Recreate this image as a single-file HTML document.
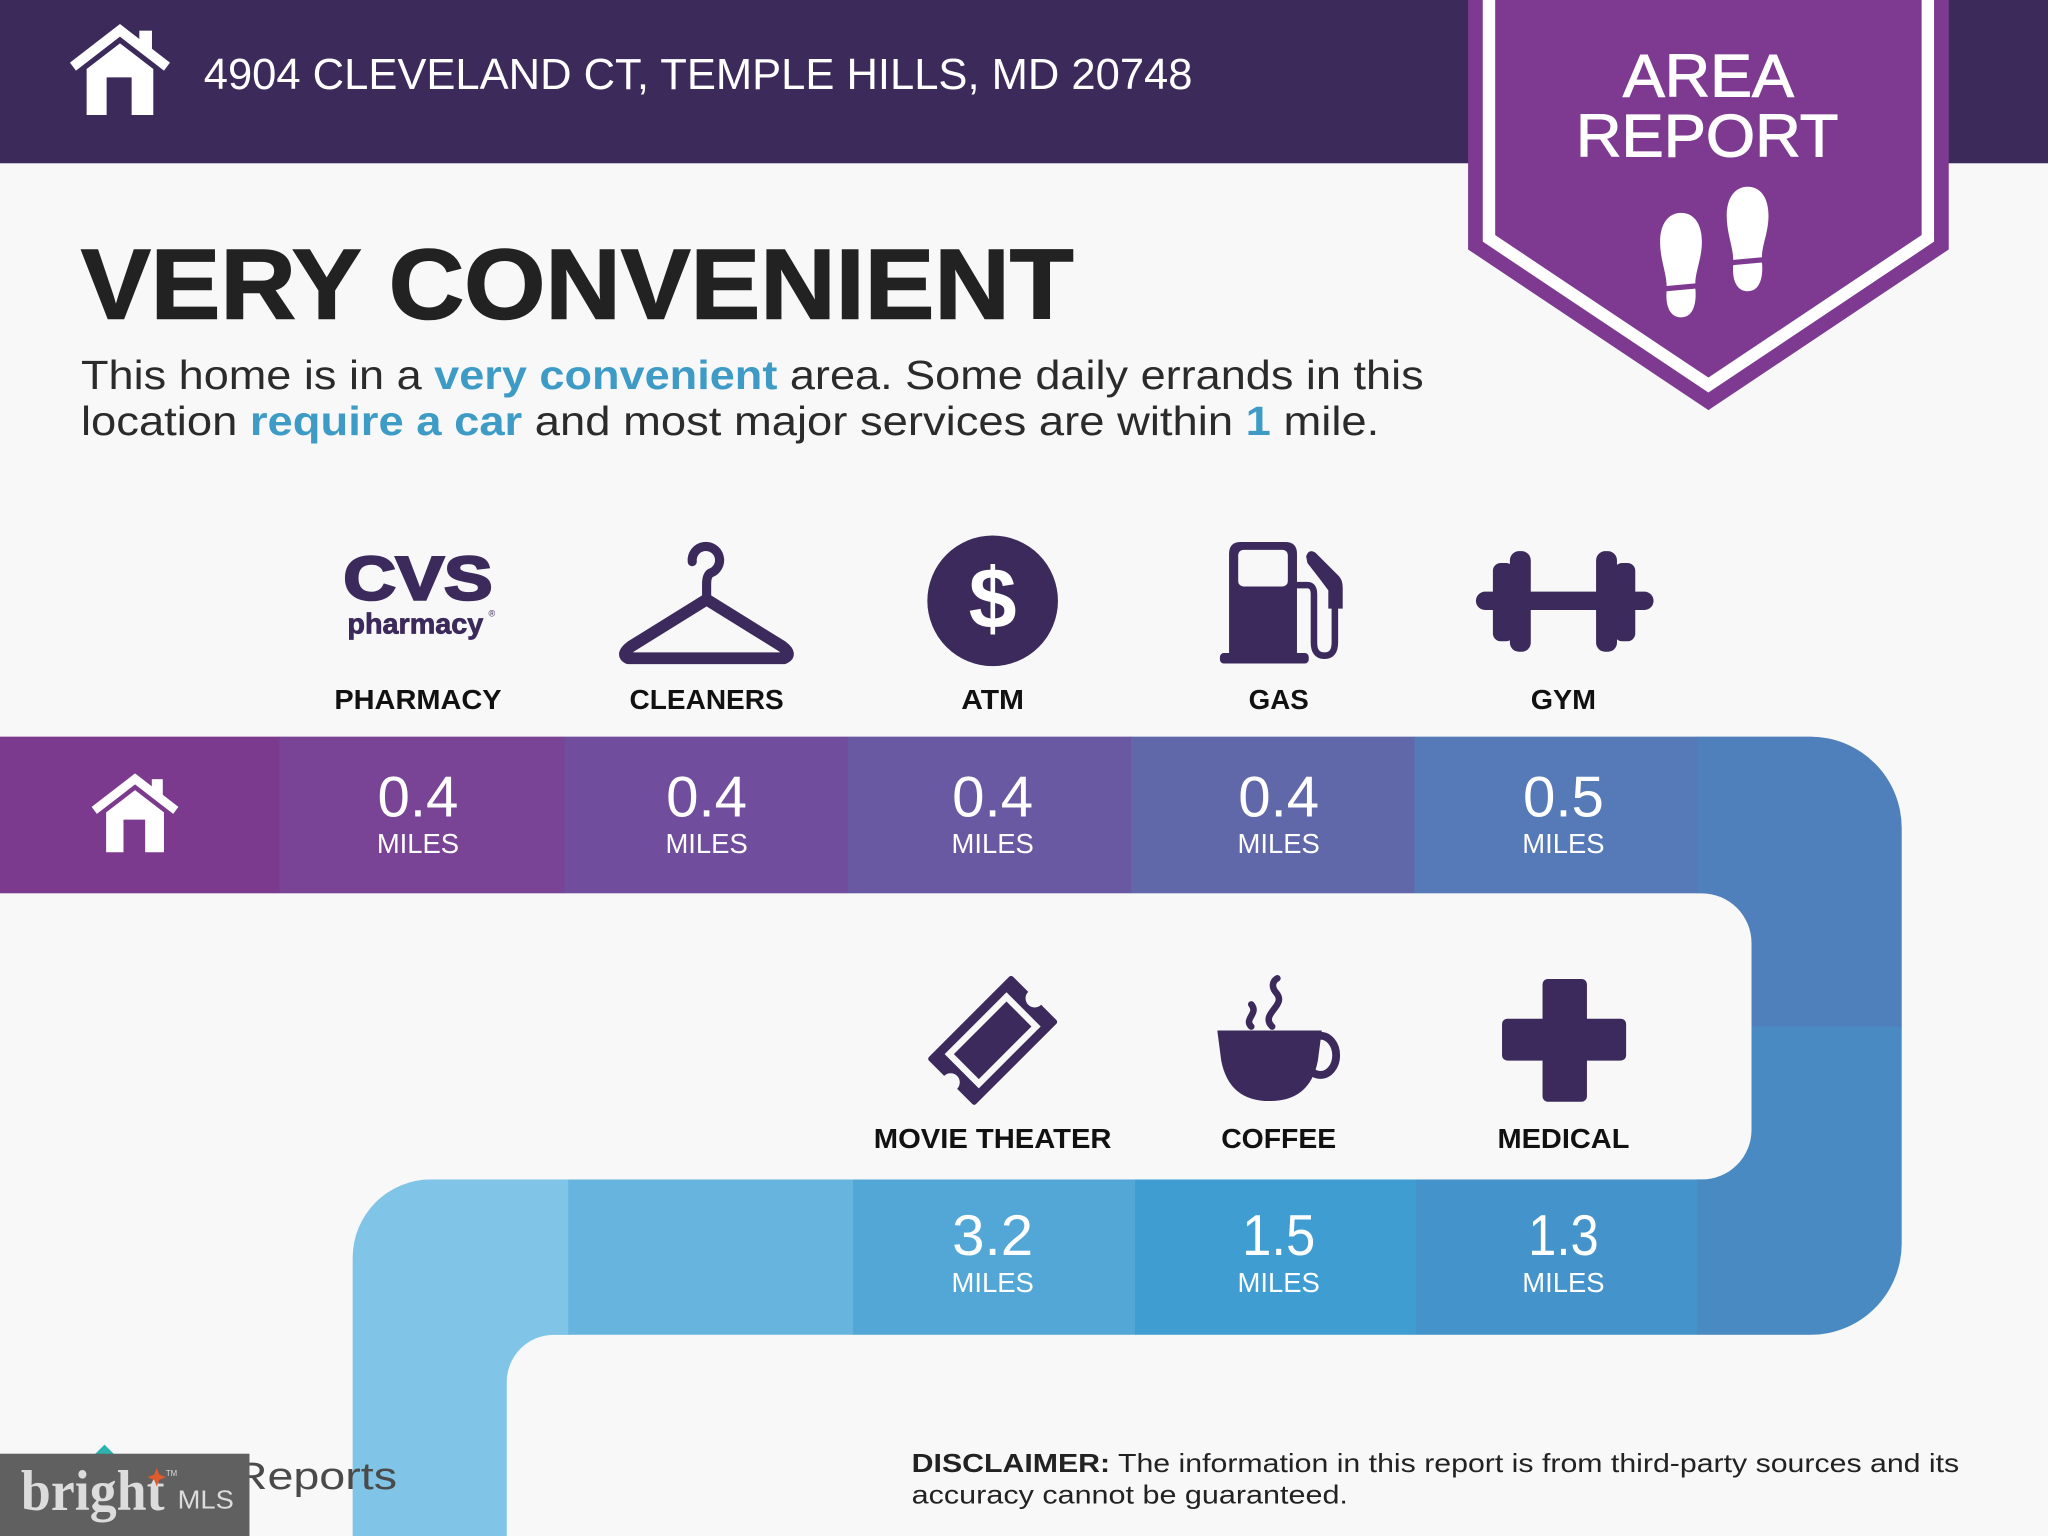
<!DOCTYPE html>
<html>
<head>
<meta charset="utf-8">
<style>
  html,body{margin:0;padding:0;background:#f8f8f8;width:2048px;height:1536px;overflow:hidden;}
  svg{display:block;overflow:hidden;}
  text{font-family:"Liberation Sans", sans-serif;}
</style>
</head>
<body>
<svg xmlns="http://www.w3.org/2000/svg" width="2048" height="1536" viewBox="0 0 1568 1176">
  <defs>
    <g id="house">
      <polygon points="90,188 240,72 390,188 372,212 240,110 108,212" fill="#ffffff"/>
      <rect x="298" y="92" width="38" height="60" fill="#ffffff"/>
      <polygon points="140,207 240,130 340,207 340,345 275,345 275,232 200,232 200,345 140,345" fill="#ffffff"/>
    </g>
  </defs>

  <!-- background -->
  <rect x="0" y="0" width="1568" height="1176" fill="#f8f8f8"/>

  <!-- header -->
  <rect x="0" y="0" width="1568" height="125" fill="#3c2a5a"/>
  <use href="#house" transform="translate(30.6,0) scale(0.25521)"/>
  <text x="156" y="68" font-size="33" fill="#ffffff" textLength="757" lengthAdjust="spacingAndGlyphs">4904 CLEVELAND CT, TEMPLE HILLS, MD 20748</text>

  <!-- badge -->
  <polygon points="1124,0 1492,0 1492,191 1308,314 1124,191" fill="#7d3a90"/>
  <polyline points="1140,0 1140,182.5 1308,294.8 1476,182.5 1476,0" fill="none" stroke="#ffffff" stroke-width="9.5"/>
  <text x="1308" y="74" font-size="46" fill="#ffffff" stroke="#ffffff" stroke-width="0.8" text-anchor="middle" textLength="131" lengthAdjust="spacingAndGlyphs">AREA</text>
  <text x="1307" y="120" font-size="46" fill="#ffffff" stroke="#ffffff" stroke-width="0.8" text-anchor="middle" textLength="201" lengthAdjust="spacingAndGlyphs">REPORT</text>
  <!-- footprints -->
  <g transform="translate(1271,163)" fill="#ffffff">
    <path d="M16,0 C27,0 32,10 32,22 C32,34 28,42 27,52 L27,54 L5,56 C5,46 0,36 0,22 C0,9 6,0 16,0 Z"/>
    <path d="M5,60 L27,58 C28,68 26,80 16,80 C7,80 4,70 5,60 Z"/>
  </g>
  <g transform="translate(1322,143)" fill="#ffffff">
    <path d="M16,0 C27,0 32,10 32,22 C32,34 28,42 27,52 L27,54 L5,56 C5,46 0,36 0,22 C0,9 6,0 16,0 Z"/>
    <path d="M5,60 L27,58 C28,68 26,80 16,80 C7,80 4,70 5,60 Z"/>
  </g>

  <!-- title -->
  <text x="62" y="244" font-size="76" font-weight="bold" fill="#222222" stroke="#222222" stroke-width="1.2" textLength="760" lengthAdjust="spacingAndGlyphs">VERY CONVENIENT</text>
  <text x="62" y="298" font-size="31" fill="#2b2b2b" textLength="1028" lengthAdjust="spacingAndGlyphs">This home is in a <tspan font-weight="bold" fill="#3d9bc6">very convenient</tspan> area. Some daily errands in this</text>
  <text x="62" y="333" font-size="31" fill="#2b2b2b" textLength="994" lengthAdjust="spacingAndGlyphs">location <tspan font-weight="bold" fill="#3d9bc6">require a car</tspan> and most major services are within <tspan font-weight="bold" fill="#3d9bc6">1</tspan> mile.</text>

  <!-- row 1 icons -->
  <g fill="#3b2a5b">
    <text x="320" y="459" font-size="47" font-weight="bold" stroke="#3b2a5b" stroke-width="2" text-anchor="middle" textLength="114" lengthAdjust="spacingAndGlyphs">CVS</text>
    <text x="318" y="485" font-size="22" font-weight="bold" stroke="#3b2a5b" stroke-width="0.6" text-anchor="middle" textLength="104" lengthAdjust="spacingAndGlyphs">pharmacy</text>
    <text x="374" y="472" font-size="7">®</text>
    <circle cx="760" cy="460" r="50"/>
  </g>
  <text x="760" y="481" font-size="66" font-weight="bold" fill="#ffffff" text-anchor="middle">$</text>
  <!-- hanger -->
  <g fill="none" stroke="#3b2a5b" stroke-linecap="round" stroke-linejoin="round">
    <path d="M541,459 L483,495 Q475,501 481,504 L600,504 Q607,501 599,495 Z" stroke-width="9"/>
    <path d="M530,430 A10.5,10.5 0 1 1 543.6,438.9 Q541,441 541,447 L541,459" stroke-width="7"/>
  </g>
  <!-- gas -->
  <g fill="#3b2a5b">
    <path d="M941,424 Q941,415 950,415 H984 Q993,415 993,424 V501 H941 Z"/>
    <rect x="934" y="500" width="68" height="8" rx="3"/>
    <path d="M1000,426 Q1002,420 1007,423 L1025,441 Q1028,444 1028,450 V466 H1017 V452 L1011,444 L1001,431 Z"/>
  </g>
  <rect x="948" y="421" width="38" height="28" rx="4" fill="#f8f8f8"/>
  <path d="M993,448 H1001 Q1006,448 1006,455 V492 Q1006,502 1014,502 Q1022,502 1022,492 V462" fill="none" stroke="#3b2a5b" stroke-width="5" stroke-linecap="round"/>
  <!-- gym -->
  <g fill="#3b2a5b">
    <rect x="1130" y="453" width="136" height="14" rx="7"/>
    <rect x="1156" y="422" width="16" height="77" rx="7"/>
    <rect x="1143" y="431" width="16" height="60" rx="6"/>
    <rect x="1222" y="422" width="16" height="77" rx="7"/>
    <rect x="1236" y="431" width="16" height="60" rx="6"/>
  </g>

  <!-- row 1 labels -->
  <g font-size="21" font-weight="bold" fill="#111111" text-anchor="middle">
    <text x="320" y="543" textLength="128" lengthAdjust="spacingAndGlyphs">PHARMACY</text>
    <text x="541" y="543" textLength="118" lengthAdjust="spacingAndGlyphs">CLEANERS</text>
    <text x="760" y="543" textLength="48" lengthAdjust="spacingAndGlyphs">ATM</text>
    <text x="979" y="543" textLength="46" lengthAdjust="spacingAndGlyphs">GAS</text>
    <text x="1197" y="543" textLength="50" lengthAdjust="spacingAndGlyphs">GYM</text>
  </g>

  <!-- right column -->
  <path d="M1299,564 H1386 A70,70 0 0 1 1456,634 V787 H1299 Z" fill="#4f80bb"/>
  <path d="M1299,786 H1456 V952 A70,70 0 0 1 1386,1022 H1299 Z" fill="#4a8ac3"/>

  <!-- bar 1 -->
  <rect x="0" y="564" width="214.5" height="120" fill="#7b3a8e"/>
  <rect x="214" y="564" width="218.5" height="120" fill="#794396"/>
  <rect x="432" y="564" width="217.5" height="120" fill="#714d9d"/>
  <rect x="649" y="564" width="217.5" height="120" fill="#6959a3"/>
  <rect x="866" y="564" width="217.5" height="120" fill="#6168aa"/>
  <rect x="1083" y="564" width="216.5" height="120" fill="#5679b8"/>

  <!-- bar 2 -->
  <path d="M270,1176 V963 A60,60 0 0 1 330,903 H435.5 V1176 Z" fill="#80c4e7"/>
  <rect x="435" y="903" width="218.5" height="119" fill="#67b5de"/>
  <rect x="653" y="903" width="216.5" height="119" fill="#53a7d6"/>
  <rect x="869" y="903" width="215.5" height="119" fill="#3f9dd2"/>
  <rect x="1084" y="903" width="215.5" height="119" fill="#4493cb"/>

  <!-- white cut-outs with rounded inner corners -->
  <path d="M0,684 H1303 A38,38 0 0 1 1341,722 V865 A38,38 0 0 1 1303,903 H0 Z" fill="#f8f8f8"/>
  <path d="M388,1176 V1058 A36,36 0 0 1 424,1022 H1568 V1176 Z" fill="#f8f8f8"/>

  <!-- bar 1 contents -->
  <use href="#house" transform="translate(50.28,576.2) scale(0.2213)"/>
  <g fill="#ffffff" text-anchor="middle">
    <text x="320" y="625" font-size="44" textLength="62" lengthAdjust="spacingAndGlyphs">0.4</text>
    <text x="541" y="625" font-size="44" textLength="62" lengthAdjust="spacingAndGlyphs">0.4</text>
    <text x="760" y="625" font-size="44" textLength="62" lengthAdjust="spacingAndGlyphs">0.4</text>
    <text x="979" y="625" font-size="44" textLength="62" lengthAdjust="spacingAndGlyphs">0.4</text>
    <text x="1197" y="625" font-size="44" textLength="62" lengthAdjust="spacingAndGlyphs">0.5</text>
    <text x="320" y="653" font-size="21" textLength="63" lengthAdjust="spacingAndGlyphs">MILES</text>
    <text x="541" y="653" font-size="21" textLength="63" lengthAdjust="spacingAndGlyphs">MILES</text>
    <text x="760" y="653" font-size="21" textLength="63" lengthAdjust="spacingAndGlyphs">MILES</text>
    <text x="979" y="653" font-size="21" textLength="63" lengthAdjust="spacingAndGlyphs">MILES</text>
    <text x="1197" y="653" font-size="21" textLength="63" lengthAdjust="spacingAndGlyphs">MILES</text>
  </g>

  <!-- row 2 icons -->
  <g transform="translate(760,796.5) rotate(45)">
    <rect x="-25.5" y="-45.5" width="51" height="91" rx="2" fill="#3b2a5b"/>
    <circle cx="0" cy="-45.5" r="7" fill="#f8f8f8"/>
    <circle cx="0" cy="45.5" r="7" fill="#f8f8f8"/>
    <rect x="-18.5" y="-33.5" width="37" height="67" fill="#f8f8f8"/>
    <rect x="-13.5" y="-28.5" width="27" height="57" fill="#3b2a5b"/>
  </g>
  <path d="M932,789 H1012 L1009,812 Q1003,843 972,843 Q941,843 935,812 Z" fill="#3b2a5b"/>
  <ellipse cx="1011" cy="808" rx="12" ry="15" fill="none" stroke="#3b2a5b" stroke-width="6"/>
  <g fill="none" stroke="#3b2a5b" stroke-width="5" stroke-linecap="round">
    <path d="M974,786 C964,776 986,770 977,760 C972,754 976,750 978,749"/>
    <path d="M958,786 C952,780 964,776 958,769"/>
  </g>
  <g fill="#3b2a5b">
    <rect x="1181" y="749.5" width="34" height="94" rx="4"/>
    <rect x="1150" y="780" width="95" height="32" rx="4"/>
  </g>

  <!-- row 2 labels -->
  <g font-size="21" font-weight="bold" fill="#111111" text-anchor="middle">
    <text x="760" y="879" textLength="182" lengthAdjust="spacingAndGlyphs">MOVIE THEATER</text>
    <text x="979" y="879" textLength="88" lengthAdjust="spacingAndGlyphs">COFFEE</text>
    <text x="1197" y="879" textLength="101" lengthAdjust="spacingAndGlyphs">MEDICAL</text>
  </g>

  <!-- bar 2 contents -->
  <g fill="#ffffff" text-anchor="middle">
    <text x="760" y="961" font-size="44" textLength="62" lengthAdjust="spacingAndGlyphs">3.2</text>
    <text x="979" y="961" font-size="44" textLength="56" lengthAdjust="spacingAndGlyphs">1.5</text>
    <text x="1197" y="961" font-size="44" textLength="54" lengthAdjust="spacingAndGlyphs">1.3</text>
    <text x="760" y="989" font-size="21" textLength="63" lengthAdjust="spacingAndGlyphs">MILES</text>
    <text x="979" y="989" font-size="21" textLength="63" lengthAdjust="spacingAndGlyphs">MILES</text>
    <text x="1197" y="989" font-size="21" textLength="63" lengthAdjust="spacingAndGlyphs">MILES</text>
  </g>

  <!-- disclaimer -->
  <text x="698" y="1127" font-size="20" fill="#222222" textLength="802" lengthAdjust="spacingAndGlyphs"><tspan font-weight="bold">DISCLAIMER:</tspan> The information in this report is from third-party sources and its</text>
  <text x="698" y="1151" font-size="20" fill="#222222" textLength="334" lengthAdjust="spacingAndGlyphs">accuracy cannot be guaranteed.</text>

  <!-- bottom-left logo -->
  <polygon points="72,1114 80,1106 88,1114" fill="#2bb3b0"/>
  <text x="179" y="1140" font-size="29" fill="#4a4a4a" textLength="125" lengthAdjust="spacingAndGlyphs">Reports</text>
  <rect x="0" y="1113" width="191" height="63" fill="#606060"/>
  <text x="16" y="1156" font-size="44" font-weight="bold" fill="#dcdcdc" textLength="110" lengthAdjust="spacingAndGlyphs" style="font-family:'Liberation Serif',serif">bright</text>
  <path d="M120,1124 L122,1129 L127,1131 L122,1133 L120,1138 L118,1133 L113,1131 L118,1129 Z" fill="#e05a2b"/>
  <text x="127" y="1130" font-size="6" fill="#dcdcdc">TM</text>
  <text x="136" y="1155" font-size="20" fill="#dcdcdc" textLength="43" lengthAdjust="spacingAndGlyphs">MLS</text>
</svg>
</body>
</html>
